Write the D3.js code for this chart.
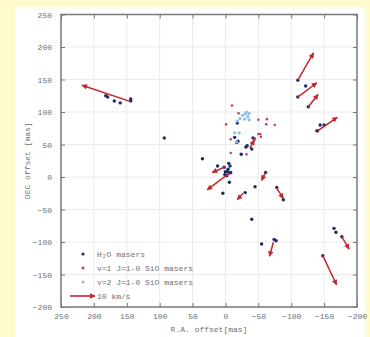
<!DOCTYPE html>
<html>
<head>
<meta charset="utf-8">
<script src="https://cdn.jsdelivr.net/npm/d3@7"></script>
<style>
  html, body { margin: 0; padding: 0; background: #fffbcc; }
  svg { display: block; }
  text { font-family: "Liberation Mono", "DejaVu Sans Mono", monospace; fill: #707070; }
</style>
</head>
<body>
<div id="chart"></div>
<script>
// ---- Data (R.A. offset, DEC offset in mas)
const h2oMasers = [
  [182, 125], [179, 123], [169, 117], [160, 114], [144, 120], [144, 117],
  [-110, 149], [-122, 140], [-110, 123], [-126, 108],
  [-140, 71], [-144, 80], [-150, 80], [-139, 71],
  [93, 60], [35, 28],
  [12, 17], [2, 15], [-5, 21], [-7, 17], [-3, 8], [1, 4], [-6, 6], [-8, 7],
  [-4, 12], [0, 8], [-2, 2], [-6, -8], [4, -25], [-45, -15], [-30, -24],
  [-61, 7], [-78, -16], [-88, -35],
  [-40, -65], [-55, -103], [-74, -96], [-77, -98],
  [-148, -121], [-165, -79], [-168, -85], [-177, -92],
  [-18, 83], [-14, 61], [-19, 55], [-24, 35], [-31, 46], [-33, 48], [-42, 60], [-40, 43], [-17, 53]
];
const sio1Masers = [
  [-10, 110], [-1, 81], [-20, 98], [-50, 88], [-62, 81], [-8, 58], [-44, 57],
  [-50, 66], [-54, 62], [-8, 37], [-32, 35], [-63, 89], [-75, 80], [-45, 59], [-53, 66]
];
const sio2Masers = [
  [-32, 100], [-36, 98], [-22, 90], [-29, 89], [-36, 88], [-18, 86], [-34, 93],
  [-26, 95], [-14, 68], [-21, 68], [-17, 54], [-30, 97]
];
// arrows: start R.A., start DEC, velocity R.A. (km/s), velocity DEC (km/s)
const velocityArrows = [
  [144, 116, 19.5, 6.6],
  [-110, 149, -6.3, 11],
  [-110, 123, -7.6, 5.8],
  [-126, 108, -3.9, 5],
  [-140, 71, -7.9, 5.5],
  [0, 16, 5.3, -2.4],
  [-6, 6, 8.9, -6.8],
  [-27, -25, 2.4, -2.6],
  [-61, 7, 1.6, -3.2],
  [-78, -17, -2.6, -4.2],
  [-73, -100, 1.6, -5.8],
  [-148, -121, -5.5, -11.8],
  [-177, -92, -2.9, -5],
  [-37, 44, -1.8, 3.4]
];
const masPerKms = 3.8;
const axisTicks = [250, 200, 150, 100, 50, 0, -50, -100, -150, -200];
const legendItems = [
  { label: "H\u2082O masers", color: "#1c2a6b" },
  { label: "v=1 J=1-0 SiO masers", color: "#cc3d66" },
  { label: "v=2 J=1-0 SiO masers", color: "#8fbde6" }
];
const legendArrowLabel = "10 km/s";
const arrowColor = "#c0282c";

// ---- Layout
const W = 370, H = 337;
const margin = { left: 61, right: 13, top: 14.5, bottom: 30 };
const svg = d3.select("#chart").append("svg").attr("width", W).attr("height", H);

svg.append("rect").attr("x", 15).attr("y", 7).attr("width", 350).attr("height", H - 7).attr("fill", "#ffffff");

const x = d3.scaleLinear().domain([250, -200]).range([margin.left, W - margin.right]);
const y = d3.scaleLinear().domain([250, -200]).range([margin.top, H - margin.bottom]);

// ---- Grid
const grid = svg.append("g");
grid.selectAll(".gx").data(axisTicks).join("line")
  .attr("x1", d => x(d)).attr("x2", d => x(d))
  .attr("y1", y(250)).attr("y2", y(-200))
  .attr("stroke", "#ebebeb").attr("stroke-width", 1);
grid.selectAll(".gy").data(axisTicks).join("line")
  .attr("y1", d => y(d)).attr("y2", d => y(d))
  .attr("x1", x(250)).attr("x2", x(-200))
  .attr("stroke", "#ebebeb").attr("stroke-width", 1);

// ---- Axes (ticks inward on all sides)
function styleAxis(g) {
  g.select(".domain").remove();
  g.selectAll(".tick line").attr("stroke", "#777").attr("stroke-width", 1);
  g.selectAll(".tick text").style("font-size", "8px").attr("fill", "#707070");
}
svg.append("g").attr("transform", `translate(0,${y(-200)})`)
  .call(d3.axisBottom(x).tickValues(axisTicks).tickSize(-4).tickPadding(6).tickFormat(d3.format("d")))
  .call(styleAxis);
svg.append("g").attr("transform", `translate(0,${y(250)})`)
  .call(d3.axisTop(x).tickValues(axisTicks).tickSize(-4).tickFormat(""))
  .call(styleAxis);
svg.append("g").attr("transform", `translate(${x(250)},0)`)
  .call(d3.axisLeft(y).tickValues(axisTicks).tickSize(-4).tickPadding(9).tickFormat(d3.format("d")))
  .call(styleAxis);
svg.append("g").attr("transform", `translate(${x(-200)},0)`)
  .call(d3.axisRight(y).tickValues(axisTicks).tickSize(-4).tickFormat(""))
  .call(styleAxis);

svg.append("rect")
  .attr("x", x(250)).attr("y", y(250))
  .attr("width", x(-200) - x(250)).attr("height", y(-200) - y(250))
  .attr("fill", "none").attr("stroke", "#7a7a7a").attr("stroke-width", 1.5);

// ---- Axis titles
svg.append("text").attr("x", (x(250) + x(-200)) / 2).attr("y", 332)
  .attr("text-anchor", "middle").style("font-size", "8px").text("R.A. offset[mas]");
svg.append("text").attr("transform", `translate(30,${(y(250) + y(-200)) / 2}) rotate(-90)`)
  .attr("text-anchor", "middle").style("font-size", "8px").text("DEC offset [mas]");

// ---- Arrow heads
const defs = svg.append("defs");
defs.append("marker").attr("id", "head")
  .attr("viewBox", "0 0 10 10").attr("refX", 9).attr("refY", 5)
  .attr("markerWidth", 8).attr("markerHeight", 5.5).attr("markerUnits", "userSpaceOnUse")
  .attr("orient", "auto")
  .append("path").attr("d", "M0,0L10,5L0,10Z").attr("fill", arrowColor);

// ---- Points
const marks = svg.append("g");
marks.selectAll(".h2o").data(h2oMasers).join("circle")
  .attr("cx", d => x(d[0])).attr("cy", d => y(d[1])).attr("r", 1.7)
  .attr("fill", legendItems[0].color);
marks.selectAll(".sio1").data(sio1Masers).join("circle")
  .attr("cx", d => x(d[0])).attr("cy", d => y(d[1])).attr("r", 1.3)
  .attr("fill", legendItems[1].color);
marks.selectAll(".sio2").data(sio2Masers).join("circle")
  .attr("cx", d => x(d[0])).attr("cy", d => y(d[1])).attr("r", 1.6)
  .attr("fill", legendItems[2].color);

// ---- Velocity arrows
marks.selectAll(".arrow").data(velocityArrows).join("line")
  .attr("x1", d => x(d[0])).attr("y1", d => y(d[1]))
  .attr("x2", d => x(d[0] + d[2] * masPerKms)).attr("y2", d => y(d[1] + d[3] * masPerKms))
  .attr("stroke", arrowColor).attr("stroke-width", 1.5)
  .attr("marker-end", "url(#head)");

// ---- Legend
const leg = svg.append("g");
legendItems.forEach((it, i) => {
  const ly = 254 + i * 14;
  leg.append("circle").attr("cx", 83).attr("cy", ly).attr("r", 1.6).attr("fill", it.color);
  leg.append("text").attr("x", 97).attr("y", ly + 3).style("font-size", "8px").text(it.label);
});
const kmPx = x(250 - 10 * masPerKms) - x(250);
leg.append("line").attr("x1", 70).attr("x2", 70 + kmPx).attr("y1", 296).attr("y2", 296)
  .attr("stroke", arrowColor).attr("stroke-width", 1.6).attr("marker-end", "url(#head)");
leg.append("text").attr("x", 97).attr("y", 299).style("font-size", "8px").text(legendArrowLabel);
</script>
</body>
</html>
